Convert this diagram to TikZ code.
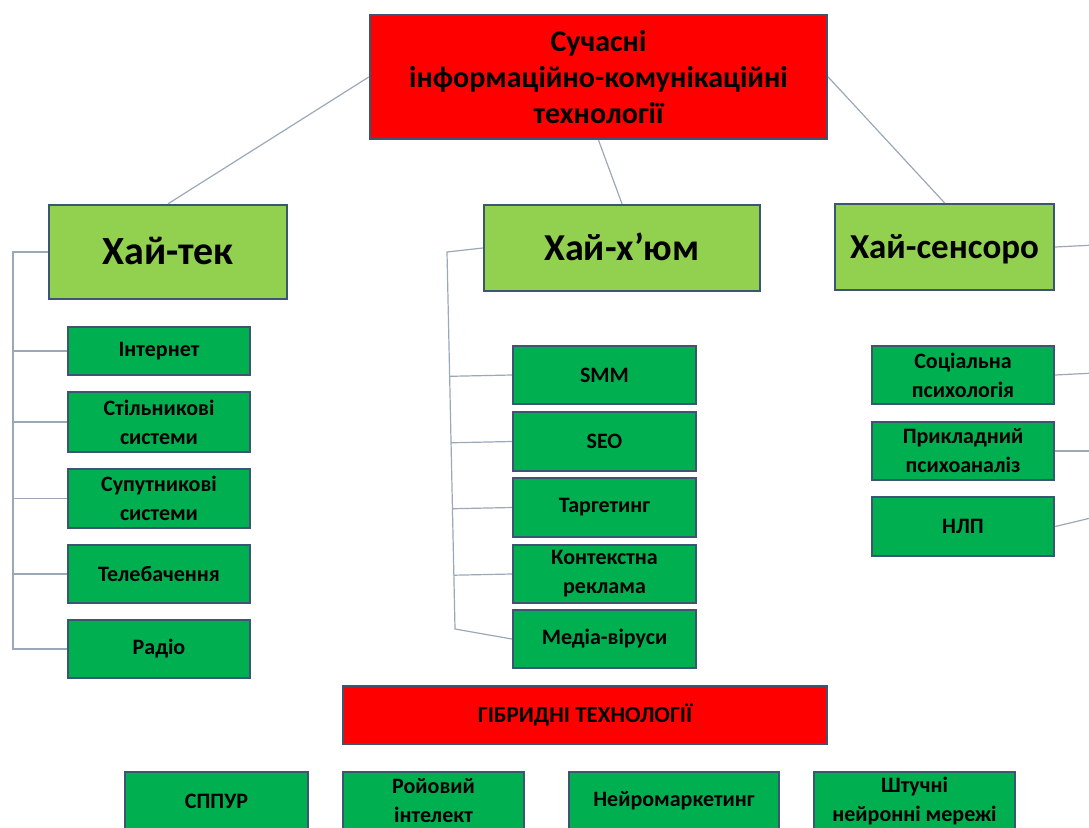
\documentclass[tikz,border=0pt]{standalone}
\usepackage{fontspec}
\setmainfont{Carlito}
\usetikzlibrary{positioning,calc}

\definecolor{rootred}{HTML}{FF0000}
\definecolor{branchgreen}{HTML}{92D050}
\definecolor{leafgreen}{HTML}{00B050}
\definecolor{boxline}{HTML}{3C5572}
\definecolor{linkgray}{HTML}{9AA8B8}

\begin{document}
\begin{tikzpicture}[
        x=1pt, y=-1pt,
        box/.style={rectangle, draw=boxline, line width=2.4pt, inner sep=0pt,
            align=center, text=black},
        root node/.style={box, fill=rootred, font=\bfseries\fontsize{30}{36}\selectfont},
        branch node/.style={box, fill=branchgreen, minimum height=86pt, text depth=0pt},
        leaf node/.style={box, fill=leafgreen, minimum width=182pt, minimum height=58pt,
            font=\bfseries\fontsize{22}{29}\selectfont},
        link/.style={draw=linkgray, line width=1.2pt},
    ]
    \useasboundingbox (0,0) rectangle (1089,827);
    \clip (0,0) rectangle (1089,827);

    % Root and the three directions
    \node[root node, minimum width=457pt, minimum height=124pt] (root) at (598.5,77)
        {Сучасні\\інформаційно-комунікаційні\\технології};
    \node[branch node, minimum width=238pt, minimum height=94pt, text height=25.6pt,
        font=\bfseries\fontsize{40}{46}\selectfont] (tech) at (168,252) {Хай-тек};
    \node[branch node, minimum width=276pt, text height=24.3pt,
        font=\bfseries\fontsize{38}{44}\selectfont] (hum) at (622,248) {Хай-х’юм};
    \node[branch node, minimum width=219pt, text height=22.4pt,
        font=\bfseries\fontsize{35}{40}\selectfont] (sens) at (944.5,247) {Хай-сенсоро};

    \draw[link] (root.west) -- (tech.north);
    \draw[link] (root.south) -- (hum.north);
    \draw[link] (root.east) -- (sens.north);

    % Хай-тек
    \foreach \t/\y/\h [count=\i] in {Інтернет/351/48, {Стільникові\\системи}/422/60,
            {Супутникові\\системи}/498.5/59, Телебачення/574/58, Радіо/649/58} {
            \node[leaf node, minimum height=\h pt] (tech\i) at (159,\y) {\t};
        }
    \coordinate (techtop) at (13,252);
    \coordinate (techbot) at (13,649);
    \draw[link] (tech.west) -- (techtop) -- (techbot) -- (tech5.west);
    \foreach \i in {1, ..., 4} {
            \draw[link] (tech\i.west) -- (tech\i.west -| techtop);
        }

    % Хай-х'юм
    \foreach \t/\y/\h [count=\i] in {SMM/375/58, SEO/441.5/59, Таргетинг/507.5/59,
            {Контекстна\\реклама}/574/58, Медіа-віруси/639/58} {
            \node[leaf node, minimum width=183pt, minimum height=\h pt] (hum\i) at (604.5,\y) {\t};
        }
    \coordinate (humtop) at (447,252);
    \coordinate (humbot) at (455,629);
    \draw[link] (hum.west) -- (humtop) -- (humbot) -- (hum5.west);
    \foreach \i in {1, ..., 4} {
            \draw[link] (hum\i.west) -- ($(humtop)!(hum\i.west)!(humbot)$);
        }

    % Хай-сенсоро, its bracket runs past the right edge
    \foreach \t/\y/\h [count=\i] in {{Соціальна\\психологія}/375/58,
            {Прикладний\\психоаналіз}/451/58, НЛП/526.5/59} {
            \node[leaf node, minimum height=\h pt] (sens\i) at (963,\y) {\t};
        }
    \foreach \n/\y in {sens/245, sens1/373, sens2/451, sens3/517} {
            \coordinate (\n rim) at (1095,\y);
            \draw[link] (\n.east) -- (\n rim);
        }

    % Hybrid technologies
    \node[root node, minimum width=484pt, minimum height=58pt,
        font=\bfseries\fontsize{23}{27}\selectfont] (hybrid) at (585,715) {ГІБРИДНІ ТЕХНОЛОГІЇ};
    \foreach \t/\x/\w [count=\i] in {СППУР/216.5/183, {Ройовий\\інтелект}/433.5/181,
            Нейромаркетинг/674/210, {Штучні\\нейронні мережі}/914.5/201} {
            \node[leaf node, minimum width=\w pt] (hyb\i) at (\x,801) {\t};
        }
\end{tikzpicture}
\end{document}
